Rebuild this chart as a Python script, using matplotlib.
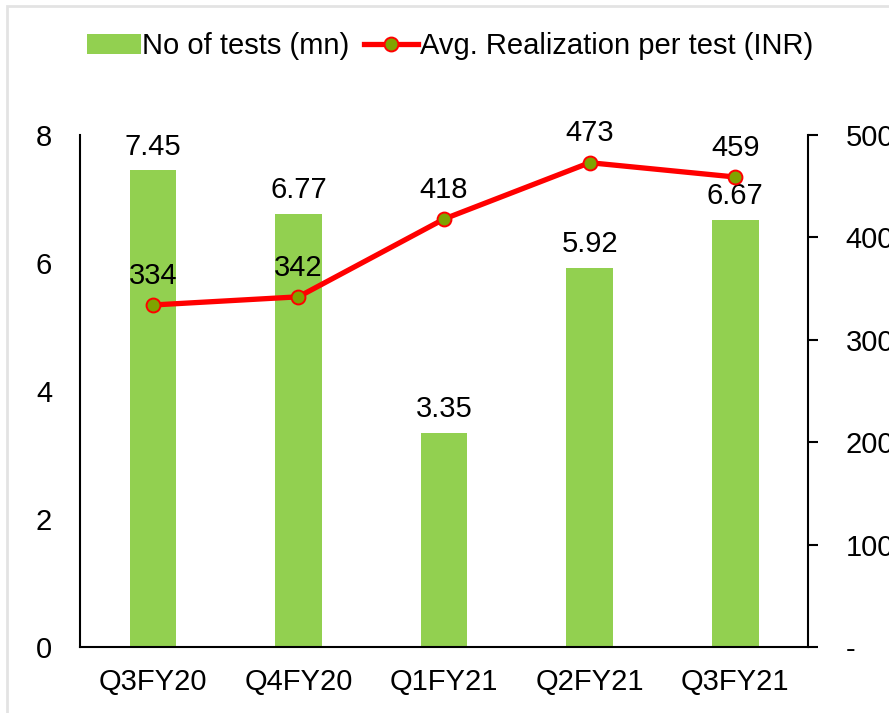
import numpy as np
import matplotlib.pyplot as plt
from matplotlib.patches import Rectangle

plt.rcParams['font.family'] = ['Liberation Sans', 'DejaVu Sans']

# quarterly data
quarters = ['Q3FY20', 'Q4FY20', 'Q1FY21', 'Q2FY21', 'Q3FY21']
tests_mn = [7.45, 6.77, 3.35, 5.92, 6.67]
realization_inr = [334, 342, 418, 473, 459]

FS = 21

fig = plt.figure(figsize=(8.89, 7.13), dpi=100)
ax = fig.add_axes([0.090, 0.0926, 0.819, 0.718])
ax2 = ax.twinx()

x = np.arange(len(quarters))

# bars - number of tests
bars = ax.bar(x, tests_mn, width=0.32, color='#92D050', label='No of tests (mn)', zorder=2)
for xi, v in zip(x, tests_mn):
    ax.annotate(f'{v:.2f}', (xi, v), xytext=(0, 7), textcoords='offset points',
                ha='center', va='bottom', fontsize=FS)

ax.set_xlim(-0.5, len(quarters) - 0.5)
ax.set_ylim(0, 8)
ax.set_yticks([0, 2, 4, 6, 8])
ax.set_xticks(x)
ax.set_xticklabels(quarters)
ax.tick_params(axis='y', length=0, pad=20, labelsize=FS)
ax.tick_params(axis='x', length=0, pad=15, labelsize=FS)
ax.spines['top'].set_visible(False)
ax.spines['right'].set_visible(False)
for s in ['left', 'bottom']:
    ax.spines[s].set_linewidth(1.5)

# line - average realization per test
line, = ax2.plot(x, realization_inr, color='#FF0000', lw=3.8, marker='o', markersize=10,
                 markerfacecolor='#7FA300', markeredgecolor='#FF0000', markeredgewidth=1.4,
                 label='Avg. Realization per test (INR)', zorder=3)
for xi, v in zip(x, realization_inr):
    ax2.annotate(str(v), (xi, v), xytext=(0, 11), textcoords='offset points',
                 ha='center', va='bottom', fontsize=FS)

ax2.set_ylim(0, 500)
ax2.set_yticks([0, 100, 200, 300, 400, 500])
ax2.set_yticklabels(['-', '100', '200', '300', '400', '500'])
ax2.tick_params(axis='y', direction='out', length=7, width=1.5, pad=20, labelsize=FS)
ax2.spines['top'].set_visible(False)
ax2.spines['left'].set_visible(False)
ax2.spines['bottom'].set_visible(False)
ax2.spines['right'].set_linewidth(1.5)

fig.legend([bars, line], ['No of tests (mn)', 'Avg. Realization per test (INR)'],
           loc='center', bbox_to_anchor=(0.506, 0.935), ncol=2, frameon=False,
           fontsize=FS, handlelength=1.85, handletextpad=0.05, columnspacing=0.5)

# light frame around the chart area
fig.patches.append(Rectangle((7 / 889, -0.1), 1.2, 1 - 6 / 713 + 0.1,
                             transform=fig.transFigure, fill=False,
                             edgecolor='#E3E3E3', lw=2))

fig.savefig('out.png', dpi=100)
